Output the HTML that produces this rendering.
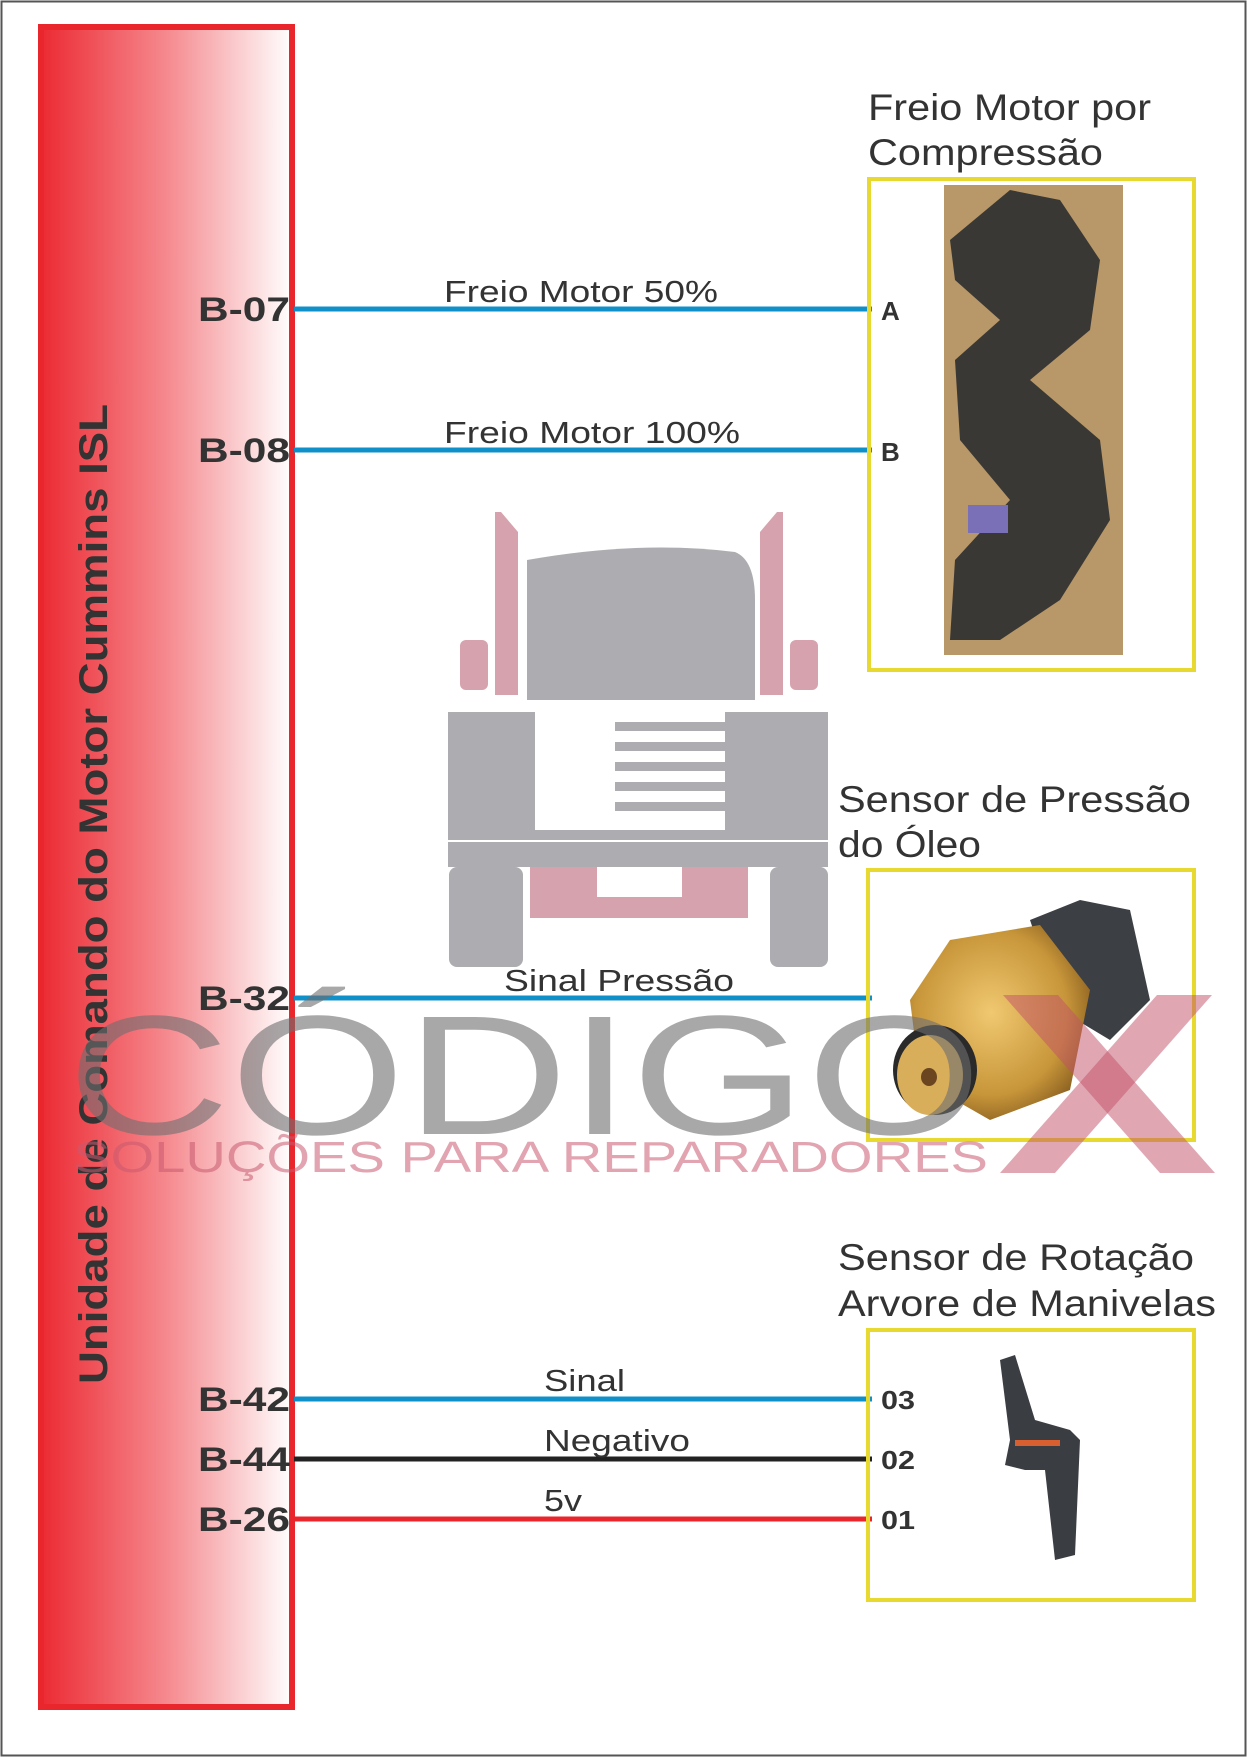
<!DOCTYPE html>
<html><head><meta charset="utf-8"><style>
html,body{margin:0;padding:0;background:#fff}
svg{display:block}
text{font-family:"Liberation Sans",sans-serif}
</style></head><body>
<svg width="1247" height="1757" viewBox="0 0 1247 1757" xmlns="http://www.w3.org/2000/svg">
<defs>
<linearGradient id="rg" x1="0" y1="0" x2="1" y2="0">
<stop offset="0" stop-color="#ec2a33"/><stop offset="0.5" stop-color="#f5898e"/><stop offset="1" stop-color="#ffffff"/>
</linearGradient>
<radialGradient id="brass" cx="0.45" cy="0.45" r="0.6">
<stop offset="0" stop-color="#f0c870"/><stop offset="0.7" stop-color="#c8963a"/><stop offset="1" stop-color="#8a6020"/>
</radialGradient>
</defs>
<rect x="1.5" y="1.5" width="1244" height="1754" fill="#fff" stroke="#555" stroke-width="2"/>
<rect x="41" y="27" width="251" height="1680" fill="url(#rg)" stroke="#e8262c" stroke-width="6"/>
<text transform="translate(107,1384) rotate(-90)" font-size="40" font-weight="bold" fill="#333" textLength="980" lengthAdjust="spacingAndGlyphs">Unidade de Comando do Motor Cummins ISL</text>

<g>
<path d="M495 512 l6 0 l17 20 l0 163 l-23 0 z" fill="#d6a2ad"/>
<path d="M783 512 l-6 0 l-17 20 l0 163 l23 0 z" fill="#d6a2ad"/>
<rect x="460" y="640" width="28" height="50" rx="6" fill="#d6a2ad"/>
<rect x="790" y="640" width="28" height="50" rx="6" fill="#d6a2ad"/>
<path d="M527 560 Q640 540 735 552 Q755 560 755 600 L755 700 L527 700 Z" fill="#adadb1"/>
<path d="M448 712 L828 712 L828 840 L448 840 Z" fill="#adadb1"/>
<rect x="535" y="712" width="190" height="118" fill="#fff"/>
<g fill="#adadb1"><rect x="615" y="722" width="110" height="9"/><rect x="615" y="742" width="110" height="9"/><rect x="615" y="762" width="110" height="9"/><rect x="615" y="782" width="110" height="9"/><rect x="615" y="802" width="110" height="9"/></g>
<rect x="448" y="842" width="380" height="25" fill="#adadb1"/>
<rect x="449" y="867" width="74" height="100" rx="8" fill="#adadb1"/>
<rect x="770" y="867" width="58" height="100" rx="8" fill="#adadb1"/>
<path d="M530 867 L748 867 L748 918 L530 918 Z M597 867 L597 897 L682 897 L682 867 Z" fill="#d6a2ad" fill-rule="evenodd"/>
</g>

<g stroke-width="5">
<line x1="294" y1="309" x2="872" y2="309" stroke="#1090c8"/>
<line x1="294" y1="450" x2="872" y2="450" stroke="#1090c8"/>
<line x1="294" y1="998" x2="872" y2="998" stroke="#1090c8"/>
<line x1="294" y1="1399" x2="872" y2="1399" stroke="#1090c8"/>
<line x1="294" y1="1459" x2="872" y2="1459" stroke="#222"/>
<line x1="294" y1="1519" x2="872" y2="1519" stroke="#e8262c"/>
</g>
<g font-size="34" font-weight="bold" fill="#333" text-anchor="end">
<text x="290" y="321" textLength="92" lengthAdjust="spacingAndGlyphs">B-07</text>
<text x="290" y="462" textLength="92" lengthAdjust="spacingAndGlyphs">B-08</text>
<text x="290" y="1010" textLength="92" lengthAdjust="spacingAndGlyphs">B-32</text>
<text x="290" y="1411" textLength="92" lengthAdjust="spacingAndGlyphs">B-42</text>
<text x="290" y="1471" textLength="92" lengthAdjust="spacingAndGlyphs">B-44</text>
<text x="290" y="1531" textLength="92" lengthAdjust="spacingAndGlyphs">B-26</text>
</g>
<g font-size="31" fill="#333">
<text x="444" y="302" textLength="274" lengthAdjust="spacingAndGlyphs">Freio Motor 50%</text>
<text x="444" y="443" textLength="296" lengthAdjust="spacingAndGlyphs">Freio Motor 100%</text>
<text x="504" y="991" textLength="230" lengthAdjust="spacingAndGlyphs">Sinal Pressão</text>
<text x="544" y="1391" textLength="81" lengthAdjust="spacingAndGlyphs">Sinal</text>
<text x="544" y="1451" textLength="146" lengthAdjust="spacingAndGlyphs">Negativo</text>
<text x="544" y="1511" textLength="38" lengthAdjust="spacingAndGlyphs">5v</text>
</g>
<g font-size="26" font-weight="bold" fill="#333">
<text x="881" y="320">A</text><text x="881" y="461">B</text>
<text x="881" y="1409" textLength="34" lengthAdjust="spacingAndGlyphs">03</text>
<text x="881" y="1469" textLength="34" lengthAdjust="spacingAndGlyphs">02</text>
<text x="881" y="1529" textLength="34" lengthAdjust="spacingAndGlyphs">01</text>
</g>
<g font-size="37" fill="#333">
<text x="868" y="120" textLength="283" lengthAdjust="spacingAndGlyphs">Freio Motor por</text>
<text x="868" y="165" textLength="235" lengthAdjust="spacingAndGlyphs">Compressão</text>
<text x="838" y="812" textLength="353" lengthAdjust="spacingAndGlyphs">Sensor de Pressão</text>
<text x="838" y="857" textLength="143" lengthAdjust="spacingAndGlyphs">do Óleo</text>
<text x="838" y="1270" textLength="356" lengthAdjust="spacingAndGlyphs">Sensor de Rotação</text>
<text x="838" y="1316" textLength="378" lengthAdjust="spacingAndGlyphs">Arvore de Manivelas</text>
</g>

<g fill="none" stroke="#e8d930" stroke-width="4">
<rect x="869" y="179" width="325" height="491"/>
<rect x="868" y="870" width="326" height="270"/>
<rect x="868" y="1330" width="326" height="270"/>
</g>
<rect x="944" y="185" width="179" height="470" fill="#b89868"/>
<path d="M950 240 L1010 190 L1060 200 L1100 260 L1090 330 L1030 380 L1100 440 L1110 520 L1060 600 L1000 640 L950 640 L955 560 L1010 500 L960 440 L955 360 L1000 320 L955 280 Z" fill="#3a3835"/>
<rect x="968" y="505" width="40" height="28" fill="#7a70b8"/>
<path d="M1030 920 L1080 900 L1130 910 L1150 1000 L1110 1040 L1060 1010 Z" fill="#3c3f44"/>
<path d="M950 940 L1040 925 L1090 990 L1070 1090 L990 1120 L920 1080 L910 1000 Z" fill="url(#brass)"/>
<ellipse cx="935" cy="1070" rx="42" ry="45" fill="#2a2a2a"/>
<ellipse cx="930" cy="1075" rx="33" ry="40" fill="#d8ae5a"/>
<ellipse cx="929" cy="1077" rx="8" ry="9" fill="#6a4520"/>
<path d="M1000 1360 L1015 1355 L1035 1420 L1070 1430 L1080 1440 L1075 1555 L1055 1560 L1045 1470 L1025 1470 L1005 1465 L1010 1440 Z" fill="#3a3d42"/>
<rect x="1015" y="1440" width="45" height="6" fill="#d86030"/>

<text x="67" y="1134" font-size="170" fill="#6e6e70" fill-opacity="0.6" textLength="915" lengthAdjust="spacingAndGlyphs">CÓDIGO</text>
<text x="73" y="1172" font-size="44" fill="#c85a70" fill-opacity="0.55" textLength="915" lengthAdjust="spacingAndGlyphs">SOLUÇÕES PARA REPARADORES</text>
<g fill="#c25068" fill-opacity="0.5">
<polygon points="1003,995 1058,995 1215,1173 1160,1173"/>
<polygon points="1157,995 1212,995 1055,1173 1000,1173"/>
</g>
</svg>
</body></html>
